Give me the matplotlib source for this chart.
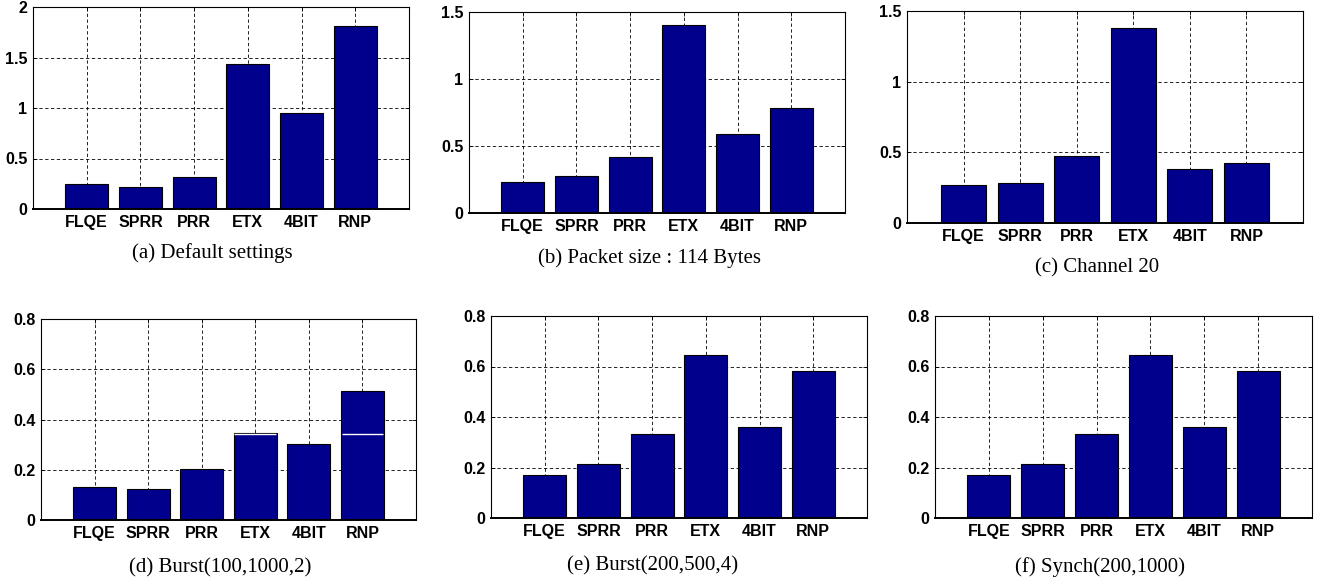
import matplotlib
matplotlib.use("Agg")
import matplotlib.pyplot as plt
import numpy as np
from matplotlib.ticker import FuncFormatter

estimators = ["FLQE", "SPRR", "PRR", "ETX", "4BIT", "RNP"]

default_vals = [0.251, 0.215, 0.32, 1.438, 0.949, 1.808]
packet114_vals = [0.231, 0.275, 0.419, 1.401, 0.588, 0.781]
channel20_vals = [0.269, 0.285, 0.472, 1.382, 0.384, 0.427]
burst1_vals = [0.131, 0.123, 0.203, 0.346, 0.304, 0.515]
burst2_vals = [0.169, 0.2135, 0.332, 0.647, 0.362, 0.581]
synch_vals = [0.169, 0.2135, 0.332, 0.647, 0.362, 0.581]

# white seam visible inside ETX and RNP bars of panel (d)
burst1_seam = [None, None, None, 0.341, None, 0.341]

captions = ["(a) Default settings", "(b) Packet size : 114 Bytes", "(c) Channel 20",
            "(d) Burst(100,1000,2)", "(e) Burst(200,500,4)", "(f) Synch(200,1000)"]
yticks_big = [0, 0.5, 1, 1.5, 2]
yticks_mid = [0, 0.5, 1, 1.5]
yticks_small = [0, 0.2, 0.4, 0.6, 0.8]

bar_color = "#00008C"
W, H = 1320, 580

plt.rcParams['axes.axisbelow'] = True
fig = plt.figure(figsize=(W/100, H/100), dpi=100)

# pixel boxes: left, right, top, bottom ; caption centre x, y
boxes = [(33, 409, 7, 209, 212, 253),
         (469, 845, 12, 213, 650, 258),
         (907, 1303, 11, 223, 1097, 268),
         (41, 416, 319, 520, 220, 568),
         (491, 867, 316, 518, 653, 566),
         (935, 1312, 316, 518, 1100, 567)]
data = [default_vals, packet114_vals, channel20_vals, burst1_vals, burst2_vals, synch_vals]
ylims = [2, 1.5, 1.5, 0.8, 0.8, 0.8]
yticks = [yticks_big, yticks_mid, yticks_mid, yticks_small, yticks_small, yticks_small]


def fmt(v, pos):
    s = "%g" % v
    return s


for i in range(6):
    l, r, t, b, cx, cy = boxes[i]
    ax = fig.add_axes([l/W, 1-b/H, (r-l)/W, (b-t)/H])
    x = np.arange(1, len(estimators)+1)
    ax.bar(x, data[i], width=0.8, color=bar_color, edgecolor="black", linewidth=0.8, zorder=2)
    if i == 3:
        for k in range(len(x)):
            if burst1_seam[k] is not None:
                ax.hlines(burst1_seam[k], x[k]-0.39, x[k]+0.39, colors="white", linewidth=1.0, zorder=3)
    ax.set_xlim(0, 7)
    ax.set_ylim(0, ylims[i])
    ax.set_xticks(x)
    ax.set_xticklabels(estimators)
    ax.set_yticks(yticks[i])
    ax.yaxis.set_major_formatter(FuncFormatter(fmt))
    ax.grid(True, linestyle=(0, (4, 3)), color="black", linewidth=0.6)
    ax.tick_params(direction="in", length=3, width=0.6, top=True, right=True, pad=4)
    for lab in ax.get_xticklabels() + ax.get_yticklabels():
        lab.set_fontfamily("Liberation Sans")
        lab.set_fontweight("bold")
        lab.set_fontsize(11.5)
    for sp in ax.spines.values():
        sp.set_linewidth(0.8)
    ax.spines["bottom"].set_linewidth(1.4)
    fig.text(cx/W, 1-cy/H, captions[i], ha="center", va="center",
             fontfamily="Liberation Serif", fontsize=15)

plt.savefig("out.png", dpi=100)
